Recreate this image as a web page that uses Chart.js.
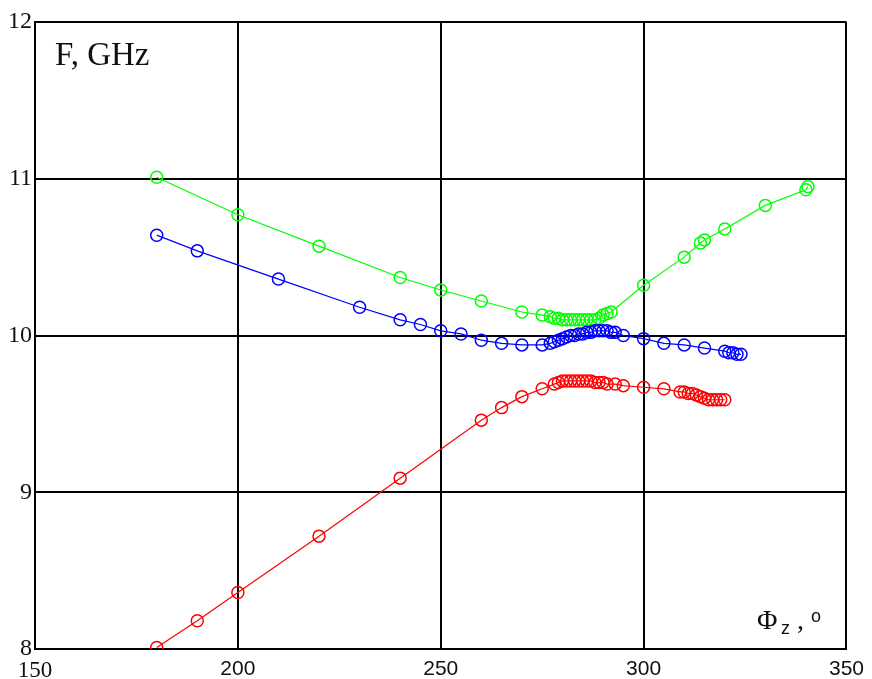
<!DOCTYPE html>
<html>
<head>
<meta charset="utf-8">
<script src="https://cdn.jsdelivr.net/npm/chart.js@4/dist/chart.umd.min.js"></script>
<style>
html,body{margin:0;padding:0;background:#fff;}
#wrap{position:relative;width:872px;height:679px;}
</style>
</head>
<body>
<div id="wrap"><canvas id="c" width="872" height="679"></canvas></div>
<script>
// ---- data ----
const xTicks = [150, 200, 250, 300, 350];
const yTicks = [8, 9, 10, 11, 12];

const greenX = [180,200,220,240,250,260,270,275,277,278,279,280,281,282,283,284,285,286,287,288,289,290,291,292,300,310,314,315,320,330,340,340.5];
const greenY = [11.01,10.77,10.57,10.37,10.29,10.22,10.15,10.13,10.12,10.11,10.11,10.10,10.10,10.10,10.10,10.10,10.10,10.10,10.10,10.10,10.11,10.13,10.14,10.15,10.32,10.50,10.59,10.61,10.68,10.83,10.93,10.95];

const blueX = [180,190,210,230,240,245,250,255,260,265,270,275,277,278,279,280,281,282,283,284,285,286,287,288,289,290,291,292,293,295,300,305,310,315,320,321,322,323,324];
const blueY = [10.64,10.54,10.36,10.18,10.10,10.07,10.03,10.01,9.97,9.95,9.94,9.94,9.95,9.96,9.97,9.98,9.99,10.00,10.00,10.01,10.01,10.02,10.02,10.03,10.03,10.03,10.03,10.02,10.02,10.00,9.98,9.95,9.94,9.92,9.90,9.89,9.89,9.88,9.88];

const redX = [180,190,200,220,240,260,265,270,275,278,279,280,281,282,283,284,285,286,287,288,289,290,291,293,295,300,305,309,310,311,312,313,314,315,316,317,318,319,320];
const redY = [8.01,8.18,8.36,8.72,9.09,9.46,9.54,9.61,9.66,9.69,9.70,9.71,9.71,9.71,9.71,9.71,9.71,9.71,9.71,9.70,9.70,9.70,9.69,9.69,9.68,9.67,9.66,9.64,9.64,9.63,9.63,9.62,9.61,9.60,9.59,9.59,9.59,9.59,9.59];

const yTitle = "F, GHz";
const xTitleMain = "\u03A6";
const xTitleSub = "z";

function pts(xs, ys){ return xs.map((x,i)=>({x:x, y:ys[i]})); }

function ds(label, xs, ys, color, order){
  return {
    label: label,
    data: pts(xs, ys),
    showLine: true,
    borderColor: color,
    borderWidth: 1.2,
    backgroundColor: 'rgba(0,0,0,0)',
    pointBorderColor: color,
    pointBackgroundColor: 'rgba(0,0,0,0)',
    pointBorderWidth: 1.5,
    pointRadius: 6,
    pointHoverRadius: 6,
    tension: 0,
    order: order
  };
}

const annot = {
  id: 'annot',
  afterDraw(chart){
    const ctx = chart.ctx;
    ctx.save();
    ctx.fillStyle = '#111';
    ctx.textBaseline = 'alphabetic';
    ctx.textAlign = 'left';
    ctx.font = '33px "Liberation Serif"';
    ctx.fillText(yTitle, 55, 65);
    ctx.font = '28px "Liberation Serif"';
    ctx.fillText(xTitleMain, 757, 629);
    ctx.font = '18px "Liberation Sans"';
    ctx.fillText(xTitleSub, 781, 634);
    ctx.font = '28px "Liberation Serif"';
    ctx.fillText(",", 797, 629);
    ctx.font = '18px "Liberation Sans"';
    ctx.fillText("o", 811, 622);
    ctx.restore();
  }
};

new Chart(document.getElementById('c'), {
  type: 'scatter',
  data: {
    datasets: [
      ds('blue', blueX, blueY, '#0000ff', 0),
      ds('green', greenX, greenY, '#00ff00', 1),
      ds('red', redX, redY, '#ff0000', 2)
    ]
  },
  options: {
    responsive: false,
    animation: false,
    events: [],
    layout: { padding: { top: 22, right: 25, left: 0, bottom: 0 } },
    plugins: { legend: { display: false }, tooltip: { enabled: false } },
    scales: {
      x: {
        type: 'linear',
        min: 150, max: 350,
        afterFit: s => { s.height = 30; },
        afterBuildTicks: s => { s.ticks = xTicks.map(v => ({value: v})); },
        grid: { color: '#000', lineWidth: 2, drawTicks: false },
        border: { color: '#000', width: 2 },
        ticks: {
          padding: 8,
          color: '#111',
          font: c => (c.tick && c.tick.value === 150) ? {family: 'Liberation Serif', size: 23} : {family: 'Liberation Sans', size: 21},
          callback: v => String(v)
        }
      },
      y: {
        type: 'linear',
        min: 8, max: 12,
        afterFit: s => { s.width = 35; },
        afterBuildTicks: s => { s.ticks = yTicks.map(v => ({value: v})); },
        grid: { color: '#000', lineWidth: 2, drawTicks: false },
        border: { color: '#000', width: 2 },
        ticks: {
          padding: 3,
          color: '#111',
          font: { family: 'Liberation Serif', size: 24 },
          callback: v => String(v)
        }
      }
    }
  },
  plugins: [annot]
});
</script>
</body>
</html>
